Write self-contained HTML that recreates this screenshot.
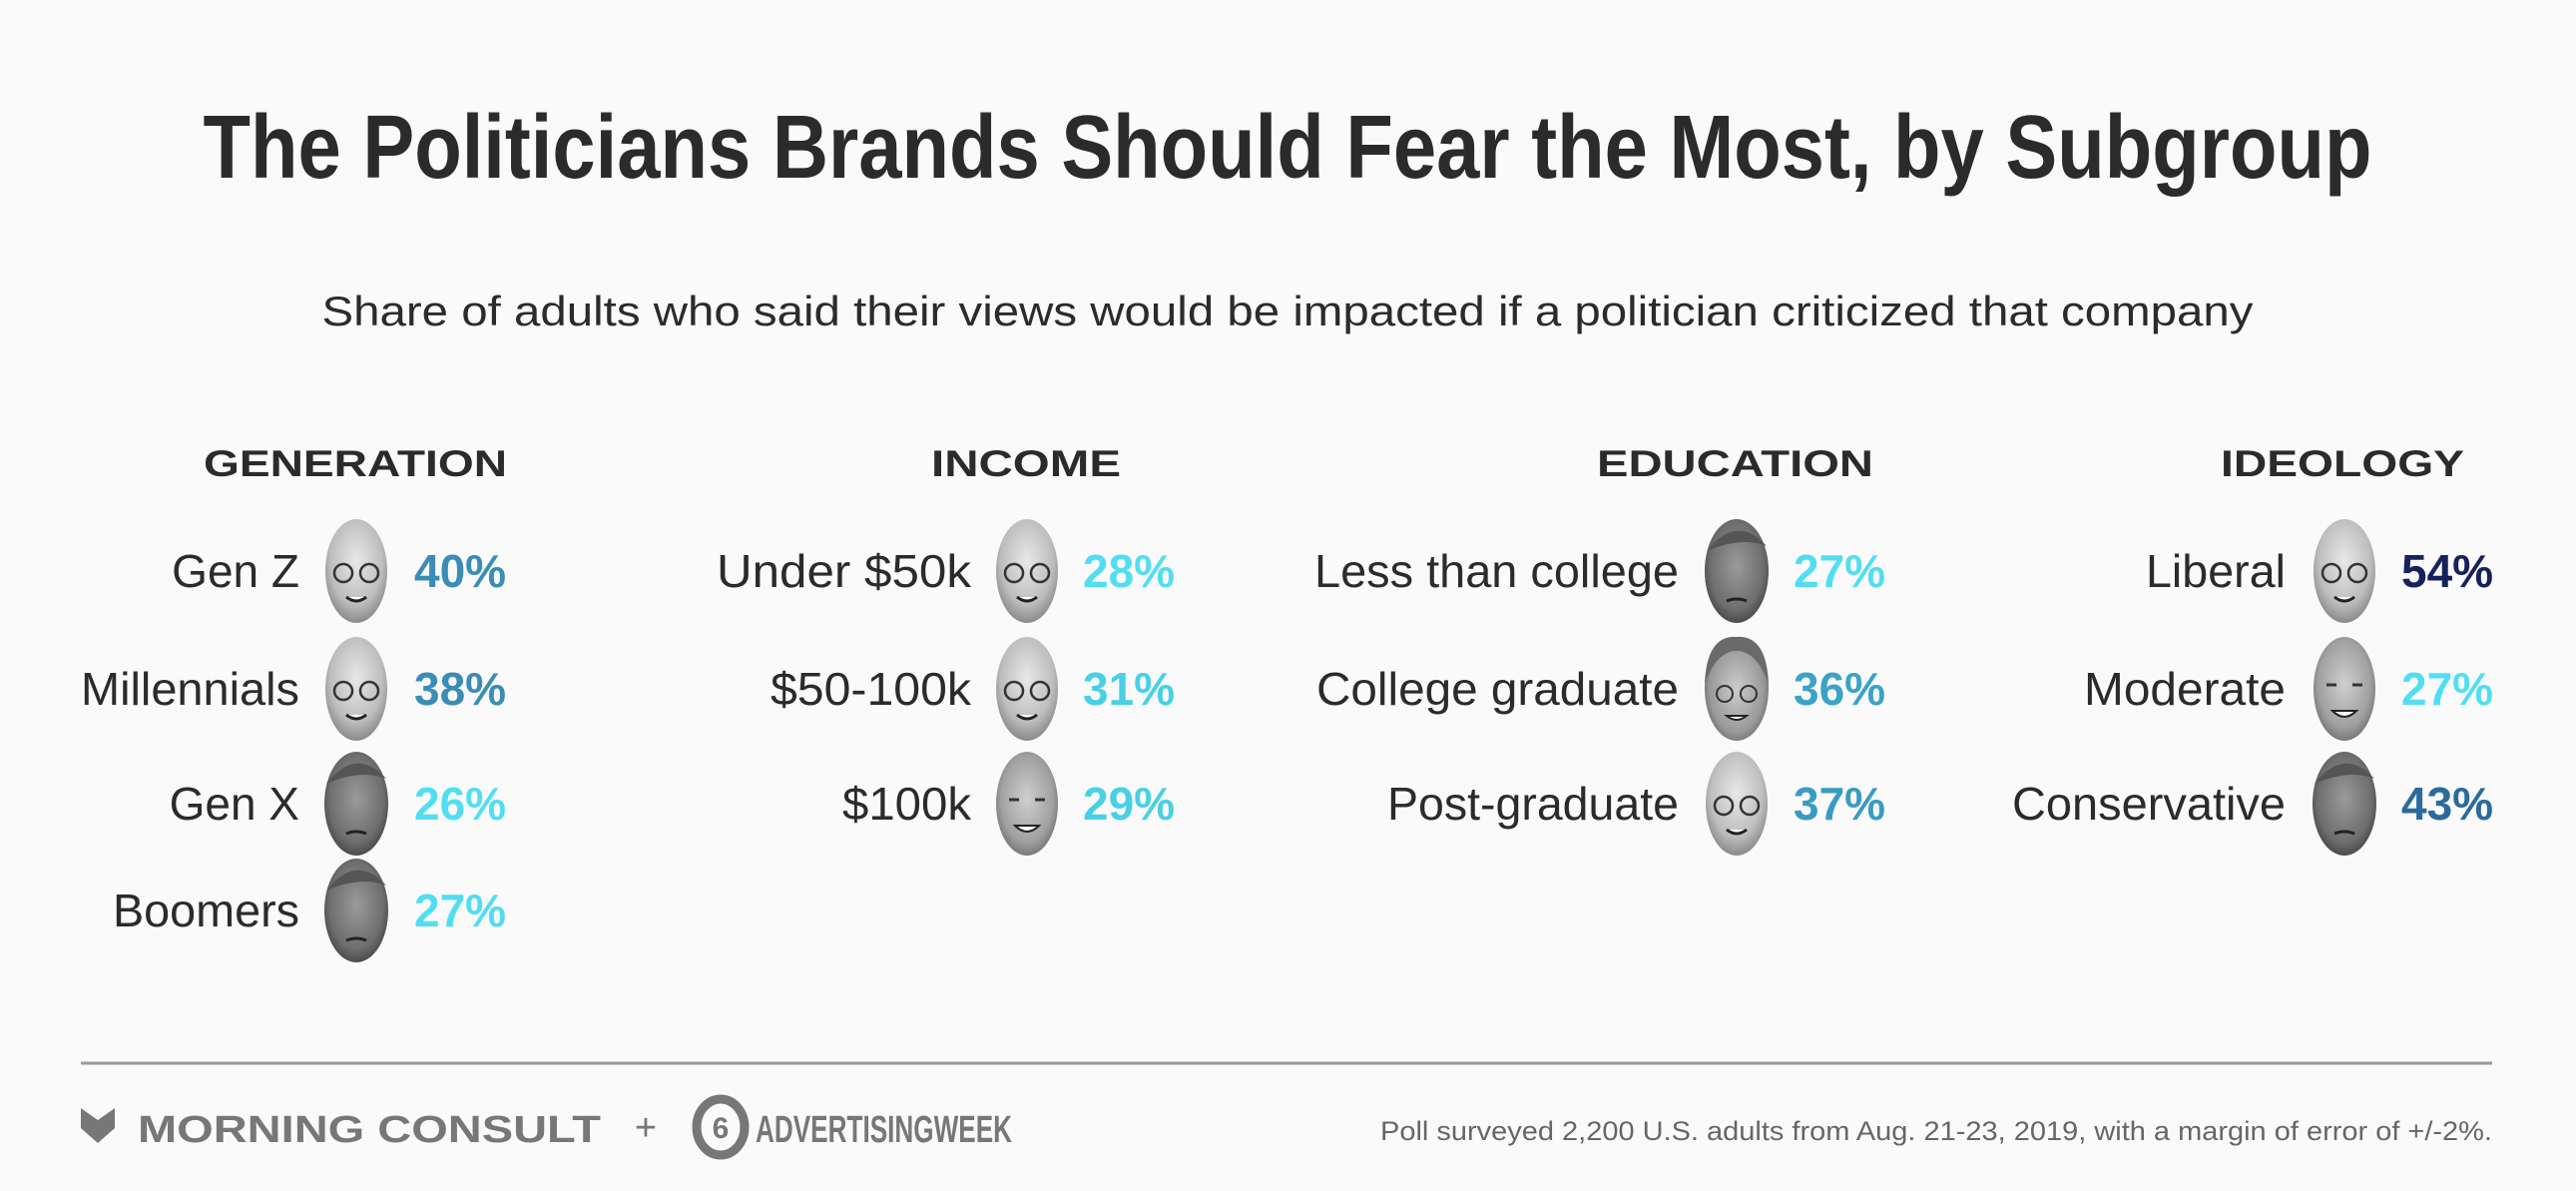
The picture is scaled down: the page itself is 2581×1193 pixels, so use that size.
<!DOCTYPE html>
<html><head><meta charset="utf-8"><style>
html,body{margin:0;padding:0;background:#fafafa;}
svg{display:block;}
text{font-family:"Liberation Sans",sans-serif;}
</style></head><body>
<svg width="2581" height="1193" viewBox="0 0 2581 1193" xmlns="http://www.w3.org/2000/svg">
<rect width="2581" height="1193" fill="#fafafa"/>
<defs>
<radialGradient id="bern" cx="50%" cy="40%" r="60%"><stop offset="0" stop-color="#e8e8e8"/><stop offset="0.7" stop-color="#bdbdbd"/><stop offset="1" stop-color="#8a8a8a"/></radialGradient>
<radialGradient id="trump" cx="50%" cy="45%" r="60%"><stop offset="0" stop-color="#9a9a9a"/><stop offset="0.7" stop-color="#6e6e6e"/><stop offset="1" stop-color="#3e3e3e"/></radialGradient>
<radialGradient id="biden" cx="50%" cy="45%" r="60%"><stop offset="0" stop-color="#cfcfcf"/><stop offset="0.7" stop-color="#a0a0a0"/><stop offset="1" stop-color="#6a6a6a"/></radialGradient>
<radialGradient id="warren" cx="50%" cy="50%" r="60%"><stop offset="0" stop-color="#cccccc"/><stop offset="0.7" stop-color="#999"/><stop offset="1" stop-color="#5a5a5a"/></radialGradient>
<g id="fb"><ellipse cx="0" cy="0" rx="31" ry="52" fill="url(#bern)"/><circle cx="-13" cy="2" r="9" fill="none" stroke="#333" stroke-width="2.5"/><circle cx="13" cy="2" r="9" fill="none" stroke="#333" stroke-width="2.5"/><path d="M-10 26 Q0 34 10 26" stroke="#222" stroke-width="3" fill="#fff"/></g>
<g id="ft"><ellipse cx="0" cy="0" rx="32" ry="52" fill="url(#trump)"/><path d="M-30 -20 Q0 -58 30 -25 Q5 -35 -30 -20Z" fill="#555"/><path d="M-10 30 Q0 26 10 30" stroke="#222" stroke-width="3" fill="none"/></g>
<g id="fj"><ellipse cx="0" cy="0" rx="31" ry="52" fill="url(#biden)"/><path d="M-12 22 Q0 34 12 22Z" fill="#fff" stroke="#222" stroke-width="2"/><path d="M-18 -4 h10 M8 -4 h10" stroke="#333" stroke-width="3"/></g>
<g id="fw"><ellipse cx="0" cy="0" rx="32" ry="52" fill="url(#warren)"/><path d="M-32 -5 Q-30 -54 0 -52 Q30 -54 32 -5 Q20 -38 0 -38 Q-20 -38 -32 -5Z" fill="#6a6a6a"/><circle cx="-12" cy="5" r="8" fill="none" stroke="#333" stroke-width="2"/><circle cx="12" cy="5" r="8" fill="none" stroke="#333" stroke-width="2"/><path d="M-10 27 Q0 35 10 27Z" fill="#fff" stroke="#222" stroke-width="2"/></g>
</defs>

<text x="1290" y="178" text-anchor="middle" font-size="90" font-weight="bold" fill="#2b2b2b" textLength="2173" lengthAdjust="spacingAndGlyphs">The Politicians Brands Should Fear the Most, by Subgroup</text>
<text x="1290" y="326" text-anchor="middle" font-size="42" fill="#2b2b2b" textLength="1935" lengthAdjust="spacingAndGlyphs">Share of adults who said their views would be impacted if a politician criticized that company</text>

<g font-size="37" font-weight="bold" fill="#2b2b2b">
<text x="204" y="477" textLength="304" lengthAdjust="spacingAndGlyphs">GENERATION</text>
<text x="933" y="477" textLength="190" lengthAdjust="spacingAndGlyphs">INCOME</text>
<text x="1600" y="477" textLength="277" lengthAdjust="spacingAndGlyphs">EDUCATION</text>
<text x="2225" y="477" textLength="244" lengthAdjust="spacingAndGlyphs">IDEOLOGY</text>
</g>

<g font-size="46" fill="#2b2b2b" text-anchor="end">
<text x="300" y="588">Gen Z</text>
<text x="300" y="706" textLength="219" lengthAdjust="spacingAndGlyphs">Millennials</text>
<text x="300" y="821">Gen X</text>
<text x="300" y="928" textLength="187" lengthAdjust="spacingAndGlyphs">Boomers</text>
<text x="973" y="588" textLength="255" lengthAdjust="spacingAndGlyphs">Under $50k</text>
<text x="973" y="706" textLength="201" lengthAdjust="spacingAndGlyphs">$50-100k</text>
<text x="973" y="821" textLength="129" lengthAdjust="spacingAndGlyphs">$100k</text>
<text x="1682" y="588" textLength="365" lengthAdjust="spacingAndGlyphs">Less than college</text>
<text x="1682" y="706" textLength="363" lengthAdjust="spacingAndGlyphs">College graduate</text>
<text x="1682" y="821" textLength="292" lengthAdjust="spacingAndGlyphs">Post-graduate</text>
<text x="2290" y="588" textLength="140" lengthAdjust="spacingAndGlyphs">Liberal</text>
<text x="2290" y="706" textLength="202" lengthAdjust="spacingAndGlyphs">Moderate</text>
<text x="2290" y="821" textLength="274" lengthAdjust="spacingAndGlyphs">Conservative</text>
</g>

<use href="#fb" x="357" y="572"/>
<use href="#fb" x="357" y="690"/>
<use href="#ft" x="357" y="805"/>
<use href="#ft" x="357" y="912"/>
<use href="#fb" x="1029" y="572"/>
<use href="#fb" x="1029" y="690"/>
<use href="#fj" x="1029" y="805"/>
<use href="#ft" x="1740" y="572"/>
<use href="#fw" x="1740" y="690"/>
<use href="#fb" x="1740" y="805"/>
<use href="#fb" x="2349" y="572"/>
<use href="#fj" x="2349" y="690"/>
<use href="#ft" x="2349" y="805"/>

<g font-size="46" font-weight="bold">
<text x="415" y="588" fill="#3a8db5">40%</text>
<text x="415" y="706" fill="#3a8db5">38%</text>
<text x="415" y="821" fill="#52def2">26%</text>
<text x="415" y="928" fill="#52def2">27%</text>
<text x="1085" y="588" fill="#52def2">28%</text>
<text x="1085" y="706" fill="#48d0e6">31%</text>
<text x="1085" y="821" fill="#48d0e6">29%</text>
<text x="1797" y="588" fill="#52def2">27%</text>
<text x="1797" y="706" fill="#3aa3c7">36%</text>
<text x="1797" y="821" fill="#3a9bc2">37%</text>
<text x="2406" y="588" fill="#17215a">54%</text>
<text x="2406" y="706" fill="#52def2">27%</text>
<text x="2406" y="821" fill="#2a6b9c">43%</text>
</g>

<line x1="81" y1="1065" x2="2497" y2="1065" stroke="#999" stroke-width="3"/>
<path d="M81 1110 L98 1122 L115 1110 L115 1130 L98 1145 L81 1130Z" fill="#777"/>
<text x="138" y="1144" font-size="38" font-weight="bold" fill="#777" textLength="464" lengthAdjust="spacingAndGlyphs">MORNING CONSULT</text>
<text x="647" y="1142" font-size="38" fill="#777" text-anchor="middle">+</text>
<ellipse cx="722" cy="1129" rx="24" ry="28" fill="none" stroke="#777" stroke-width="9"/>
<text x="722" y="1140" font-size="30" font-weight="bold" fill="#777" text-anchor="middle">6</text>
<text x="757" y="1144" font-size="38" font-weight="bold" fill="#777" textLength="257" lengthAdjust="spacingAndGlyphs">ADVERTISINGWEEK</text>
<text x="2497" y="1142" font-size="27" fill="#666" text-anchor="end" textLength="1114" lengthAdjust="spacingAndGlyphs">Poll surveyed 2,200 U.S. adults from Aug. 21-23, 2019, with a margin of error of +/-2%.</text>
</svg>
</body></html>
